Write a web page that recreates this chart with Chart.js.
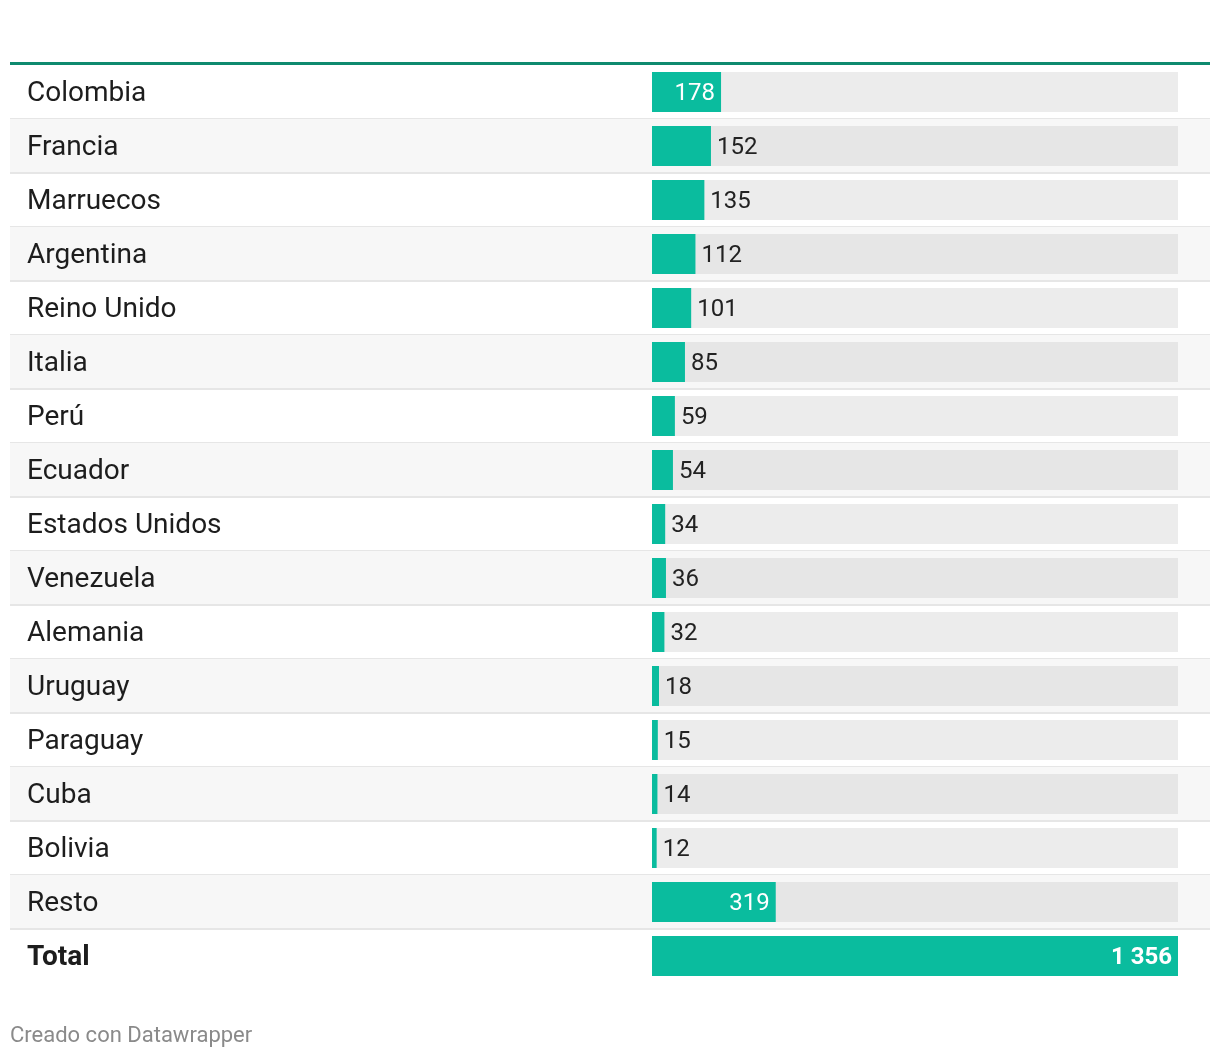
<!DOCTYPE html>
<html>
<head>
<meta charset="utf-8">
<script src="https://cdn.jsdelivr.net/npm/chart.js@4.4.1/dist/chart.umd.min.js"></script>
<style>
  body { margin: 0; background: #fff; font-family: Roboto, sans-serif; }
  #wrap { position: relative; width: 1220px; height: 1058px; }
  #footer { position: absolute; left: 10px; top: 1022px; font-size: 22px; color: #8a8a8a; }
</style>
</head>
<body>
<div id="wrap">
  <canvas id="chart" width="1220" height="1058"></canvas>
  <div id="footer">Creado con Datawrapper</div>
</div>
<script>
var paises = ['Colombia', 'Francia', 'Marruecos', 'Argentina', 'Reino Unido', 'Italia', 'Perú',
    'Ecuador', 'Estados Unidos', 'Venezuela', 'Alemania', 'Uruguay', 'Paraguay', 'Cuba',
    'Bolivia', 'Resto', 'Total'];
var valores = [178, 152, 135, 112, 101, 85, 59, 54, 34, 36, 32, 18, 15, 14, 12, 319, 1356];
var maximo = 1356;

var VERDE = '#0abc9e';
var ultimo = paises.length - 1;

function fmt(v) {
    // separador de miles con espacio
    return String(v).replace(/\B(?=(\d{3})+(?!\d))/g, ' ');
}

// fondos de filas, separadores y linea superior
var filasPlugin = {
    id: 'filas',
    beforeDraw: function(chart) {
        var ctx = chart.ctx;
        var y = chart.scales.y;
        var area = chart.chartArea;
        ctx.save();
        ctx.fillStyle = '#0f8a6f';
        ctx.fillRect(10, area.top - 3, 1200, 3);
        for (var i = 0; i < paises.length; i++) {
            var yc = y.getPixelForValue(i);
            var top = yc - 27;
            if (i % 2 === 1) {
                ctx.fillStyle = '#f7f7f7';
                ctx.fillRect(10, top, 1200, 54);
            }
            if (i < ultimo) {
                ctx.fillStyle = '#e6e6e6';
                ctx.fillRect(10, top + 53, 1200, 2);
            }
        }
        ctx.restore();
    },
    afterDatasetsDraw: function(chart) {
        var ctx = chart.ctx;
        var meta = chart.getDatasetMeta(0);
        ctx.save();
        ctx.textBaseline = 'middle';
        meta.data.forEach(function(bar, i) {
            var v = valores[i];
            var txt = fmt(v);
            var bold = i === ultimo;
            ctx.font = (bold ? 'bold ' : '') + '24px Roboto';
            var w = ctx.measureText(txt).width;
            var ancho = bar.x - bar.base;
            if (ancho > w + 25) {
                ctx.fillStyle = '#ffffff';
                ctx.textAlign = 'right';
                ctx.fillText(txt, bar.x - 6, bar.y + 2);
            } else {
                ctx.fillStyle = '#222222';
                ctx.textAlign = 'left';
                ctx.fillText(txt, bar.x + 6, bar.y + 2);
            }
        });
        ctx.restore();
    }
};

new Chart(document.getElementById('chart').getContext('2d'), {
    type: 'bar',
    data: {
        labels: paises,
        datasets: [{
            data: valores,
            backgroundColor: VERDE,
            order: 1
        }, {
            // pista gris detras de cada barra
            data: paises.map(function() { return maximo; }),
            backgroundColor: paises.map(function(p, i) { return i % 2 === 1 ? '#e6e6e6' : '#ececec'; }),
            order: 2
        }]
    },
    options: {
        indexAxis: 'y',
        responsive: false,
        animation: false,
        devicePixelRatio: 1,
        grouped: false,
        barPercentage: 40 / 54,
        categoryPercentage: 1,
        layout: { padding: { top: 65, bottom: 75, left: 27, right: 42 } },
        plugins: { legend: { display: false }, tooltip: { enabled: false } },
        scales: {
            x: { display: false, min: 0, max: maximo },
            y: {
                grid: { display: false },
                border: { display: false },
                afterFit: function(scale) { scale.width = 625; },
                ticks: {
                    autoSkip: false,
                    crossAlign: 'far',
                    labelOffset: 2,
                    color: '#1d1d1d',
                    font: function(c) {
                        return c.index === ultimo
                            ? { family: 'Roboto', size: 28, weight: 'bold' }
                            : { family: 'Roboto', size: 28 };
                    }
                }
            }
        }
    },
    plugins: [filasPlugin]
});
</script>
</body>
</html>
